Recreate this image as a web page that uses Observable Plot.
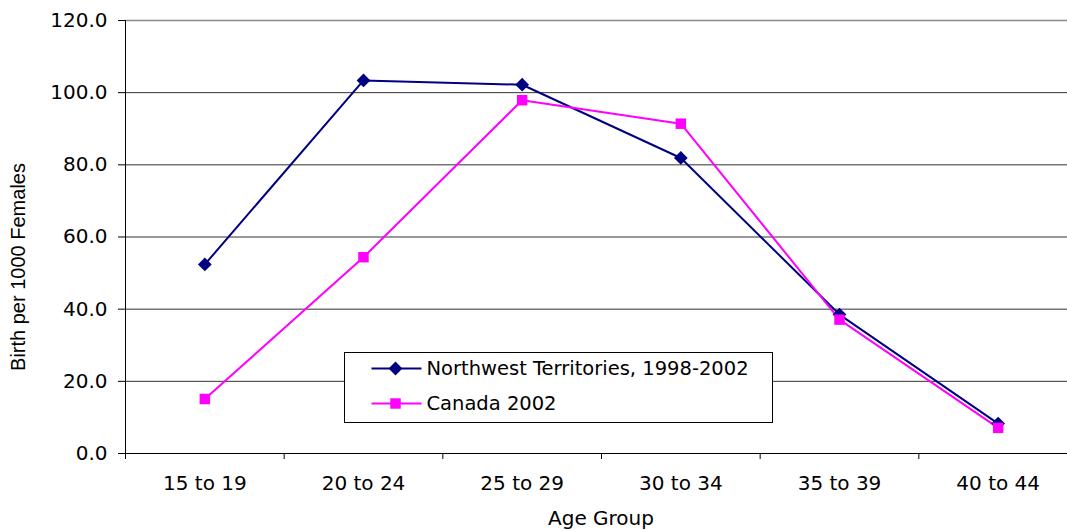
<!DOCTYPE html>
<html>
<head>
<meta charset="utf-8">
<script src="https://cdn.jsdelivr.net/npm/d3@7"></script>
<script src="https://cdn.jsdelivr.net/npm/@observablehq/plot@0.6"></script>
<style>
  body { margin: 0; background: #fff; }
  #chart { position: relative; width: 1067px; height: 531px; overflow: hidden; }
</style>
</head>
<body>
<div id="chart"></div>
<script>
// Age-specific fertility rates (births per 1000 females)
const ageGroups = ["15 to 19", "20 to 24", "25 to 29", "30 to 34", "35 to 39", "40 to 44"];
const nwtRates = [52.4, 103.4, 102.2, 81.9, 38.5, 8.3];
const canadaRates = [15.1, 54.4, 97.9, 91.4, 37.1, 7.1];
const seriesNames = ["Northwest Territories, 1998-2002", "Canada 2002"];
const seriesColors = ["#000080", "#FF00FF"];
const yTicks = [0, 20, 40, 60, 80, 100, 120];

// Each category occupies one unit on a linear x scale; points sit in the middle
const rows = values => ageGroups.map((g, i) => ({ group: g, pos: i + 0.5, value: values[i] }));
const nwt = rows(nwtRates);
const canada = rows(canadaRates);

const diamondR = 6.2;
const squareR = 5.9;

const plot = Plot.plot({
  width: 1067,
  height: 531,
  marginLeft: 125,
  marginRight: -10,
  marginTop: 20,
  marginBottom: 78,
  style: { fontFamily: "DejaVu Sans", fontSize: "20px", color: "#000", background: "#fff" },
  x: { domain: [0, ageGroups.length], range: [125, 1077] },
  y: { domain: [0, 120] },
  marks: [
    Plot.ruleY(yTicks.filter(t => t > 0 && t < 120), { stroke: "#333", strokeWidth: 1 }),
    Plot.ruleY([120], { stroke: "#888", strokeWidth: 1.5 }),
    Plot.ruleY([0], { stroke: "#000" }),
    Plot.ruleX([0], { stroke: "#000" }),
    Plot.axisY({ ticks: yTicks, tickFormat: d => d.toFixed(1), tickSize: 7, tickPadding: 11, label: null }),
    Plot.axisX({ ticks: d3.range(0, ageGroups.length + 1), tickSize: 6, tickFormat: () => "", label: null }),
    Plot.axisX({
      ticks: ageGroups.map((_, i) => i + 0.5),
      tickSize: 0,
      tickPadding: 22,
      tickFormat: d => ageGroups[Math.floor(d)],
      label: null
    }),
    Plot.line(nwt, { x: "pos", y: "value", stroke: seriesColors[0], strokeWidth: 2 }),
    Plot.line(canada, { x: "pos", y: "value", stroke: seriesColors[1], strokeWidth: 2 }),
    Plot.dot(nwt, { x: "pos", y: "value", symbol: "diamond2", r: diamondR, fill: seriesColors[0], stroke: "none" }),
    Plot.dot(canada, { x: "pos", y: "value", symbol: "square", r: squareR, fill: seriesColors[1], stroke: "none" })
  ]
});

document.getElementById("chart").appendChild(plot);

const svg = d3.select(plot);

// Axis titles
svg.append("text")
  .attr("transform", "translate(25,267) rotate(-90)")
  .attr("text-anchor", "middle")
  .style("font-family", "Liberation Sans, Arial, sans-serif")
  .style("font-size", "20px")
  .attr("fill", "#000")
  .text("Birth per 1000 Females");

svg.append("text")
  .attr("x", 601)
  .attr("y", 525)
  .attr("text-anchor", "middle")
  .style("font-family", "DejaVu Sans")
  .style("font-size", "20px")
  .attr("fill", "#000")
  .text("Age Group");

// Legend box
const legend = svg.append("g").attr("transform", "translate(344.5,352.5)");
legend.append("rect")
  .attr("width", 428).attr("height", 70)
  .attr("fill", "#fff").attr("stroke", "#000").attr("stroke-width", 1);

const symbols = [
  d3.symbol(d3.symbolDiamond2, Math.PI * diamondR * diamondR),
  d3.symbol(d3.symbolSquare, Math.PI * squareR * squareR)
];
seriesNames.forEach((name, i) => {
  const row = legend.append("g").attr("transform", `translate(0,${16 + i * 35})`);
  row.append("line").attr("x1", 27).attr("x2", 77).attr("stroke", seriesColors[i]).attr("stroke-width", 2);
  row.append("path").attr("d", symbols[i]()).attr("transform", "translate(51,0)").attr("fill", seriesColors[i]);
  row.append("text")
    .attr("x", 82).attr("y", 6)
    .attr("text-anchor", "start")
    .style("font-family", "DejaVu Sans")
    .style("font-size", "19.5px")
    .attr("fill", "#000")
    .text(name);
});
</script>
</body>
</html>
